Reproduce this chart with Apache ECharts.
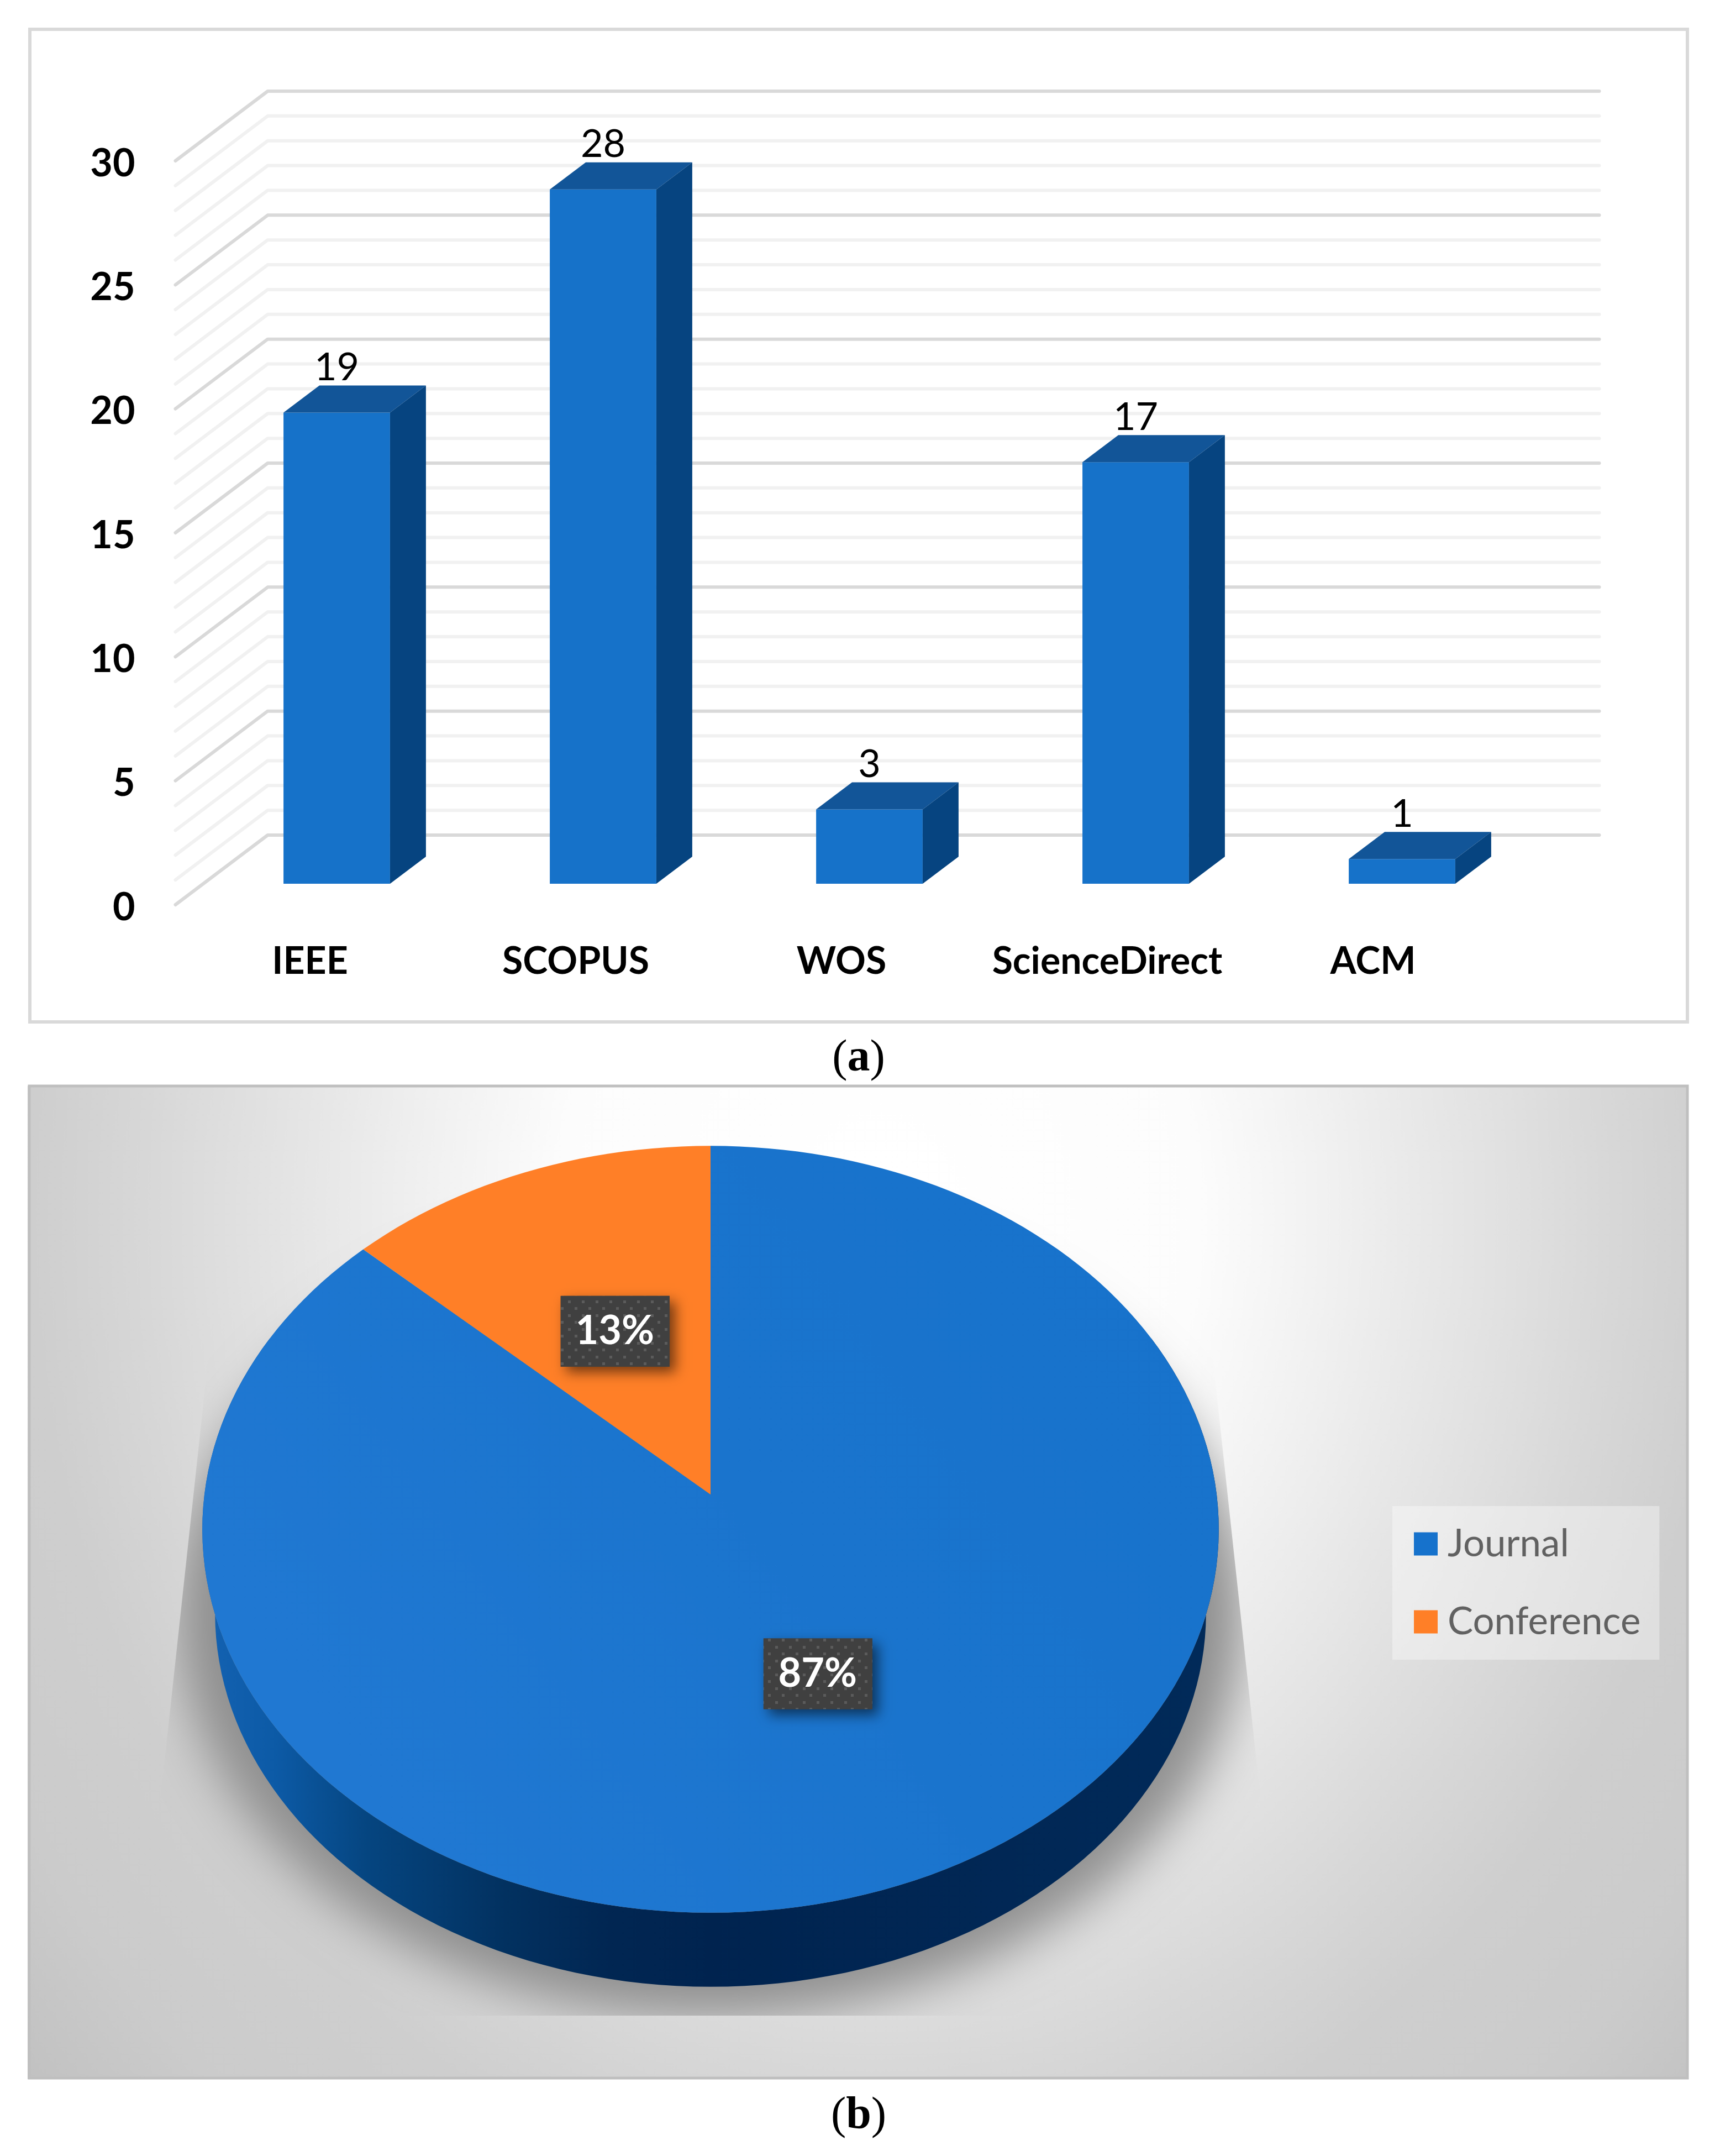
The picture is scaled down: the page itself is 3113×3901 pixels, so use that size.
<!DOCTYPE html>
<html>
<head>
<meta charset="utf-8">
<title>Sources and publication types</title>
<script src="https://cdn.jsdelivr.net/npm/echarts@6/dist/echarts.min.js"></script>
<style>
    html, body { margin: 0; padding: 0; background: #fff; }
    #main { width: 3113px; height: 3901px; }
</style>
</head>
<body>
<div id="main"></div>
<script>
// (a) papers per database
var categories = ['IEEE', 'SCOPUS', 'WOS', 'ScienceDirect', 'ACM'];
var paperCounts = [19, 28, 3, 17, 1];
var wallTicks = [0, 1, 2, 3, 4, 5, 6, 7, 8, 9, 10, 11, 12, 13, 14, 15, 16, 17, 18, 19, 20, 21, 22, 23, 24, 25, 26, 27, 28, 29, 30];

// (b) publication types, percent
var journalShare = 87;
var conferenceShare = 13;

var chart = echarts.init(document.getElementById('main'));

// front/back offsets of the fake 3d box
var BAR_DX = 65, BAR_DY = 49;
var WALL_DX = 167, WALL_DY = 126;

// perspective of the pie disc
var PIE_K = 0.0909, PIE_A = 916, PIE_B = 688;
var RING_SCALE = 0.975, RING_DY = 153;

function project(pt, cs) {
    var u = (pt[0] - cs.cx) / cs.r;
    var v = (cs.cy - pt[1]) / cs.r;
    var d = 1 + PIE_K * v;
    return [cs.cx + PIE_A * u / d, cs.cy - PIE_B * v / d];
}

function arcPoints(api, cs, from, to) {
    var pts = [];
    var steps = Math.ceil(Math.abs(to - from) * 2);
    for (var i = 0; i <= steps; i++) {
        pts.push(project(api.coord([1, from + (to - from) * i / steps]), cs));
    }
    return pts;
}

function ring(pts, cs, scale, dy) {
    return pts.map(function (p) {
        return [cs.cx + (p[0] - cs.cx) * scale, cs.cy + dy + (p[1] - cs.cy) * scale];
    });
}

// background of panel b: elliptical glow, squeezed with scaleY
var BG_Y = 2200, BG_SCALE = 1.17;
var bgFill = {
    type: 'radial', x: 1590, y: 0, r: 2142, global: true,
    colorStops: [
        { offset: 0, color: '#ffffff' },
        { offset: 0.27, color: '#fcfcfc' },
        { offset: 0.46, color: '#e8e8e8' },
        { offset: 0.62, color: '#d7d7d7' },
        { offset: 0.714, color: '#cecece' },
        { offset: 0.84, color: '#cbcbcb' },
        { offset: 0.986, color: '#bebebe' },
        { offset: 1, color: '#bebebe' }
    ]
};
function bgPolygon(points) {
    return {
        type: 'polygon', y: BG_Y, scaleY: BG_SCALE,
        shape: { points: points.map(function (p) { return [p[0], (p[1] - BG_Y) / BG_SCALE]; }) },
        style: { fill: bgFill }
    };
}

// dotted texture of the percent boxes
var dotCanvas = document.createElement('canvas');
dotCanvas.width = 25;
dotCanvas.height = 25;
var dotCtx = dotCanvas.getContext('2d');
dotCtx.fillStyle = '#404040';
dotCtx.fillRect(0, 0, 25, 25);
dotCtx.fillStyle = '#5b5b5b';
dotCtx.fillRect(3, 3, 5, 5);
dotCtx.fillRect(15, 15, 5, 5);

var sliceFill = {
    type: 'linear', x: 2100, y: 2300, x2: 700, y2: 3300, global: true,
    colorStops: [
        { offset: 0, color: '#1772CB' },
        { offset: 0.5, color: '#1A74CD' },
        { offset: 1, color: '#2078D2' }
    ]
};

function sliceItem(params, api) {
    var cs = params.coordSys;
    var from = api.value(1), to = api.value(2);
    var isJournal = api.value(3);
    var outline = [[cs.cx, cs.cy]].concat(arcPoints(api, cs, from, to));
    var mid = project(api.coord([0.49, (from + to) / 2]), cs);
    var bx = mid[0] + (isJournal ? 8 : -2), by = mid[1] + 2;
    return {
        type: 'group',
        children: [
            { type: 'polygon', shape: { points: outline }, style: { fill: isJournal ? sliceFill : '#FF7F27' } },
            { type: 'rect', z2: 5, shape: { x: bx - 98, y: by - 64, width: 197, height: 128 },
              style: { fill: '#404040', shadowBlur: 22, shadowOffsetX: 10, shadowOffsetY: 10, shadowColor: 'rgba(0,0,0,0.55)' } },
            { type: 'rect', z2: 6, shape: { x: bx - 98, y: by - 64, width: 197, height: 128 },
              style: { fill: { image: dotCanvas, repeat: 'repeat' } } },
            { type: 'text', z2: 7, x: bx, y: by,
              style: { text: (to - from) + '%', fill: '#fff', font: 'bold 72px Lato', align: 'center', verticalAlign: 'middle' } }
        ]
    };
}

var option = {
    animation: false,
    backgroundColor: '#fff',
    textStyle: { fontFamily: 'Lato' },
    legend: {
        data: ['Journal', 'Conference'],
        orient: 'vertical',
        left: 2520,
        top: 2725,
        padding: [34, 34, 34, 39],
        backgroundColor: 'rgba(255,255,255,0.36)',
        icon: 'rect',
        itemWidth: 43,
        itemHeight: 42,
        itemGap: 72,
        align: 'left',
        textStyle: { fontFamily: 'Lato', fontSize: 69, color: '#616161', padding: [0, 0, 0, 13] }
    },
    graphic: [
        { type: 'rect', z: 0, shape: { x: 54, y: 53, width: 3000, height: 1796 }, style: { fill: '#fff', stroke: '#d9d9d9', lineWidth: 6 } },
        { type: 'text', z: 0, x: 1554, y: 1916, style: {
            text: '{r|(}{b|a}{r|)}', align: 'center', verticalAlign: 'middle',
            rich: { r: { font: '82px "Liberation Serif"', fill: '#000' }, b: { font: 'bold 82px "Liberation Serif"', fill: '#000' } }
        } },
        { type: 'text', z: 0, x: 1554, y: 3829, style: {
            text: '{r|(}{b|b}{r|)}', align: 'center', verticalAlign: 'middle',
            rich: { r: { font: '82px "Liberation Serif"', fill: '#000' }, b: { font: 'bold 82px "Liberation Serif"', fill: '#000' } }
        } }
    ],
    // 0: front plane with the labels, 1: bars, 2: back wall
    grid: [
        { left: 320.5, top: 296, width: 2405, height: 1346 },
        { left: 368.5, top: 253, width: 2410, height: 1346 },
        { left: 484.5, top: 165, width: 2410, height: 1346 }
    ],
    xAxis: [
        { gridIndex: 0, type: 'category', data: categories, axisLine: { show: false }, axisTick: { show: false },
          axisLabel: { interval: 0, margin: 64, color: '#000', fontFamily: 'Lato', fontWeight: 'bold', fontSize: 68 } },
        { gridIndex: 1, type: 'category', data: categories, show: false },
        { gridIndex: 2, type: 'category', data: categories, show: false }
    ],
    yAxis: [
        { gridIndex: 0, type: 'value', min: 0, max: 30, interval: 5, axisLine: { show: false }, axisTick: { show: false }, splitLine: { show: false },
          axisLabel: { margin: 76, color: '#000', fontFamily: 'Lato', fontWeight: 'bold', fontSize: 70 } },
        { gridIndex: 1, type: 'value', min: 0, max: 30, show: false, splitLine: { show: false } },
        { gridIndex: 2, type: 'value', min: 0, max: 30, show: false, splitLine: { show: false } }
    ],
    polar: { center: [1286, 2704], radius: 689 },
    angleAxis: { type: 'value', min: 0, max: 100, startAngle: 90, show: false },
    radiusAxis: { type: 'value', min: 0, max: 1, show: false },
    series: [
        {
            name: 'wall',
            type: 'custom',
            xAxisIndex: 2,
            yAxisIndex: 2,
            z: 1,
            silent: true,
            data: wallTicks.map(function (v) { return [0, v]; }),
            encode: { x: 0, y: 1 },
            renderItem: function (params, api) {
                var v = api.value(1);
                var y = api.coord([0, v])[1];
                var g = params.coordSys;
                return {
                    type: 'polyline',
                    shape: { points: [[g.x + g.width, y], [g.x, y], [g.x - WALL_DX, y + WALL_DY]] },
                    style: { fill: null, stroke: v % 5 === 0 ? '#d9d9d9' : '#f1f1f1', lineWidth: 6, lineCap: 'round', lineJoin: 'round' }
                };
            }
        },
        {
            name: 'papers',
            type: 'custom',
            xAxisIndex: 1,
            yAxisIndex: 1,
            z: 3,
            silent: true,
            data: paperCounts.map(function (v, i) { return [i, v]; }),
            encode: { x: 0, y: 1 },
            renderItem: function (params, api) {
                var base = api.coord([api.value(0), 0]);
                var top = api.coord([api.value(0), api.value(1)]);
                var w = api.size([1, 0])[0] * 0.4;
                var x0 = base[0] - w / 2, x1 = base[0] + w / 2;
                return {
                    type: 'group',
                    children: [
                        { type: 'polygon', shape: { points: [[x0, top[1]], [x1, top[1]], [x1, base[1]], [x0, base[1]]] }, style: { fill: '#1672C9' } },
                        { type: 'polygon', shape: { points: [[x0, top[1]], [x0 + BAR_DX, top[1] - BAR_DY], [x1 + BAR_DX, top[1] - BAR_DY], [x1, top[1]]] }, style: { fill: '#125598' } },
                        { type: 'polygon', shape: { points: [[x1, top[1]], [x1 + BAR_DX, top[1] - BAR_DY], [x1 + BAR_DX, base[1] - BAR_DY], [x1, base[1]]] }, style: { fill: '#064480' } },
                        { type: 'text', x: base[0], y: top[1] - 81, style: { text: String(api.value(1)), fill: '#000', font: '70px Lato', align: 'center', verticalAlign: 'middle' } }
                    ]
                };
            }
        },
        {
            name: 'base',
            type: 'custom',
            coordinateSystem: 'polar',
            z: 2,
            silent: true,
            data: [[1, 0, 100]],
            encode: { radius: 0, angle: [1, 2] },
            renderItem: function (params, api) {
                var cs = params.coordSys;
                var rim = arcPoints(api, cs, 18, 82);
                var full = arcPoints(api, cs, 0, 100);
                var low = ring(rim, cs, RING_SCALE, RING_DY).reverse();
                return {
                    type: 'group',
                    children: [
                        bgPolygon([[50, 1965], [3056, 1965], [3056, 3762], [50, 3762]]),
                        // the disc itself sits off the page, only its blurred shadow lands here
                        { type: 'polygon', x: -4000, shape: { points: ring(full, cs, 1.05, 150) },
                          style: { fill: '#8f8f8f', shadowBlur: 90, shadowOffsetX: 4000, shadowColor: '#8f8f8f' } },
                        bgPolygon([[54, 1968], [430, 1968], [248, 3647], [54, 3647]]),
                        bgPolygon([[3052, 1968], [2142, 1968], [2324, 3647], [3052, 3647]]),
                        bgPolygon([[54, 3647], [3052, 3647], [3052, 3758], [54, 3758]]),
                        { type: 'rect', shape: { x: 53, y: 1965, width: 3001, height: 1795 }, style: { fill: null, stroke: '#bfbfbf', lineWidth: 5 } },
                        { type: 'polygon', shape: { points: rim.concat(low) },
                          style: { fill: {
                              type: 'linear', x: 366, y: 0, x2: 2207, y2: 0, global: true,
                              colorStops: [
                                  { offset: 0, color: '#1462B2' },
                                  { offset: 0.072, color: '#0C5AA6' },
                                  { offset: 0.162, color: '#054580' },
                                  { offset: 0.297, color: '#023160' },
                                  { offset: 0.4, color: '#012652' },
                                  { offset: 0.5, color: '#00234F' },
                                  { offset: 1, color: '#012A59' }
                              ]
                          } } }
                    ]
                };
            }
        },
        {
            name: 'Journal',
            type: 'custom',
            coordinateSystem: 'polar',
            z: 3,
            silent: true,
            itemStyle: { color: '#1672CC' },
            data: [[1, 0, journalShare, 1]],
            encode: { radius: 0, angle: [1, 2] },
            renderItem: sliceItem
        },
        {
            name: 'Conference',
            type: 'custom',
            coordinateSystem: 'polar',
            z: 3,
            silent: true,
            itemStyle: { color: '#FF7F27' },
            data: [[1, journalShare, journalShare + conferenceShare, 0]],
            encode: { radius: 0, angle: [1, 2] },
            renderItem: sliceItem
        }
    ]
};

chart.setOption(option);
</script>
</body>
</html>
